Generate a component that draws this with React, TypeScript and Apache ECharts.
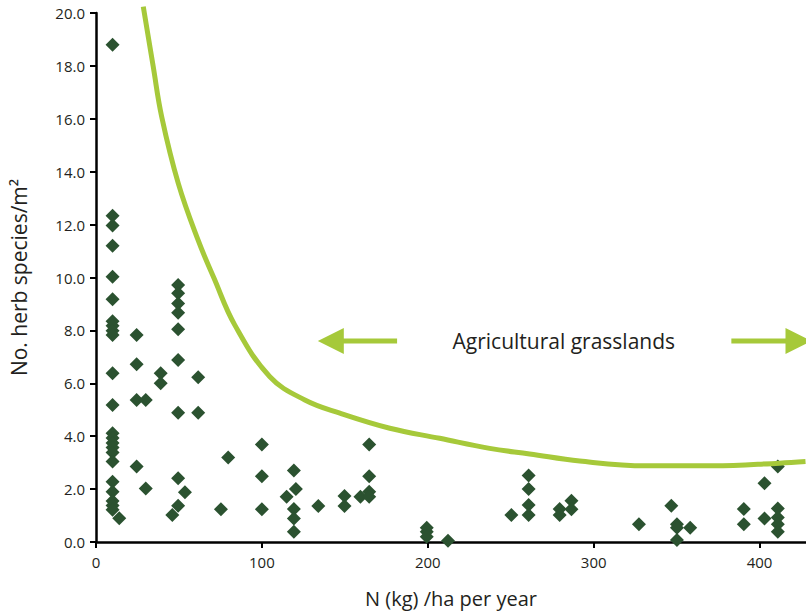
import React, { useEffect, useRef } from "react";
import * as echarts from "echarts";

// Scatter observations: N input (kg/ha per year) and herb species per m²
const nitrogen = [
  10, 10, 10, 10, 10, 10, 10, 10, 10, 10, 10, 10, 10, 10, 10, 10, 10, 10, 10, 10, 10, 10, 10, 14,
  24.5, 24.5, 24.5, 24.5, 30, 30,
  39, 39,
  49.5, 49.5, 49.5, 49.5, 49.5, 49.5, 49.5, 49.5, 49.5, 46, 53.6,
  61.6, 61.6, 75.3, 79.7,
  100, 100, 100,
  119.3, 119.3, 119.3, 119.3, 120.5, 114.9,
  134, 149.8, 149.8, 159.4, 164.7, 164.7, 164.7, 164.7,
  199.4, 199.4, 199.4, 212.2,
  250.4, 260.8, 260.8, 260.8, 260.8, 279.5, 279.5, 286.6, 286.6,
  327.3, 346.8, 350.2, 350.2, 350.2, 358.2,
  390.5, 390.5, 403, 403, 411, 411, 411, 411, 411,
];
const herbSpecies = [
  18.8, 12.33, 11.97, 11.2, 10.03, 9.18, 8.35, 8.18, 7.99, 7.83, 6.38, 5.18, 4.11, 3.93, 3.74, 3.57, 3.38, 3.04, 2.28, 1.9, 1.55, 1.38, 1.22, 0.9,
  7.83, 6.72, 5.37, 2.85, 5.37, 2.02,
  6.38, 6.0,
  9.72, 9.4, 9.02, 8.67, 8.04, 6.88, 4.89, 2.41, 1.37, 1.02, 1.88,
  6.23, 4.89, 1.24, 3.19,
  3.69, 2.49, 1.24,
  2.7, 1.25, 0.89, 0.39, 2.0, 1.71,
  1.36, 1.74, 1.36, 1.71, 3.69, 2.49, 1.9, 1.71,
  0.54, 0.39, 0.2, 0.05,
  1.02, 2.51, 2.0, 1.4, 1.02, 1.25, 1.02, 1.56, 1.24,
  0.67, 1.37, 0.67, 0.54, 0.08, 0.54,
  1.25, 0.67, 2.22, 0.89, 2.85, 1.27, 0.93, 0.67, 0.39,
];

// Boundary curve
const boundaryN = [28.5, 34.5, 39.6, 49.6, 61.5, 71.1, 83.7, 104.8, 125.9, 147, 177.1, 207.2, 237.3, 261.4, 291.6, 331.7, 371.9, 412, 427.7];
const boundarySpecies = [20.24, 17.97, 16.08, 13.56, 11.42, 9.98, 8.2, 6.25, 5.37, 4.87, 4.3, 3.92, 3.54, 3.33, 3.06, 2.88, 2.88, 2.98, 3.04];

const xTicks = [0, 100, 200, 300, 400];
const yTicks = [0, 2, 4, 6, 8, 10, 12, 14, 16, 18, 20];

// Annotation (data units)
const annotationLabel = "Agricultural grasslands";
const annotationCenter = [282, 7.6];
const leftArrow = { tipX: 133.7, tailX: 181.5, y: 7.6 };
const rightArrow = { tailX: 383, tipX: 431.3, y: 7.6 };

const FONT = "'Open Sans', 'Noto Sans', sans-serif";
const DOT = "#2b5230";
const GREEN = "#a6c93a";

export default function App() {
  const ref = useRef<HTMLDivElement>(null);
  useEffect(() => {
    document.body.style.margin = "0";
    const chart = echarts.init(ref.current!, null, { renderer: "svg" });
    const points = nitrogen.map((n, i) => [n, herbSpecies[i]]);
    const curve = boundaryN.map((n, i) => [n, boundarySpecies[i]]);
    chart.setOption({
      animation: false,
      grid: { left: 96, right: 0, top: 13, bottom: 71, containLabel: false },
      xAxis: {
        type: "value",
        min: 0,
        max: 428,
        interval: 100,
        name: "N (kg) /ha per year",
        nameLocation: "middle",
        nameGap: 46,
        nameTextStyle: { fontFamily: FONT, fontSize: 20, color: "#231f20" },
        axisLine: { show: true, lineStyle: { color: "#000", width: 2.5 } },
        axisTick: { show: true, length: 6, lineStyle: { color: "#000", width: 2 }, customValues: xTicks },
        axisLabel: { fontFamily: FONT, fontSize: 15, color: "#231f20", margin: 12, customValues: xTicks },
        splitLine: { show: false },
      },
      yAxis: {
        type: "value",
        min: 0,
        max: 20,
        interval: 2,
        name: "No. herb species/m²",
        nameLocation: "middle",
        nameGap: 67,
        nameTextStyle: { fontFamily: FONT, fontSize: 21, color: "#231f20" },
        axisLine: { show: true, lineStyle: { color: "#000", width: 2.5 } },
        axisTick: { show: true, length: 6, lineStyle: { color: "#000", width: 2 }, customValues: yTicks },
        axisLabel: {
          fontFamily: FONT,
          fontSize: 15,
          color: "#231f20",
          margin: 11,
          customValues: yTicks,
          formatter: (v: number) => v.toFixed(1),
        },
        splitLine: { show: false },
      },
      series: [
        {
          type: "scatter",
          data: points,
          symbol: "diamond",
          symbolSize: 14,
          itemStyle: { color: DOT, opacity: 1 },
          z: 2,
        },
        {
          type: "line",
          data: curve,
          smooth: 0.4,
          showSymbol: false,
          clip: false,
          lineStyle: { color: GREEN, width: 5 },
          z: 3,
        },
      ],
    });

    const px = (x: number, y: number) => chart.convertToPixel({ gridIndex: 0 }, [x, y]) as number[];
    const headLen = 26;
    const headHalf = 13;
    const shaft = 5;
    const lt = px(leftArrow.tipX, leftArrow.y);
    const ltail = px(leftArrow.tailX, leftArrow.y);
    const rt = px(rightArrow.tipX, rightArrow.y);
    const rtail = px(rightArrow.tailX, rightArrow.y);
    const c = px(annotationCenter[0], annotationCenter[1]);
    chart.setOption({
      graphic: [
        {
          type: "rect",
          shape: { x: lt[0] + headLen - 1, y: lt[1] - shaft / 2, width: ltail[0] - lt[0] - headLen + 1, height: shaft },
          style: { fill: GREEN },
        },
        {
          type: "polygon",
          shape: { points: [[lt[0], lt[1]], [lt[0] + headLen, lt[1] - headHalf], [lt[0] + headLen, lt[1] + headHalf]] },
          style: { fill: GREEN },
        },
        {
          type: "rect",
          shape: { x: rtail[0], y: rt[1] - shaft / 2, width: rt[0] - headLen - rtail[0] + 1, height: shaft },
          style: { fill: GREEN },
        },
        {
          type: "polygon",
          shape: { points: [[rt[0], rt[1]], [rt[0] - headLen, rt[1] - headHalf], [rt[0] - headLen, rt[1] + headHalf]] },
          style: { fill: GREEN },
        },
        {
          type: "text",
          x: c[0],
          y: c[1],
          style: {
            text: annotationLabel,
            fontFamily: FONT,
            fontSize: 21,
            fill: "#231f20",
            textAlign: "center",
            textVerticalAlign: "middle",
          },
        },
      ],
    });
    return () => chart.dispose();
  }, []);
  return <div ref={ref} style={{ width: 806, height: 613 }} />;
}
